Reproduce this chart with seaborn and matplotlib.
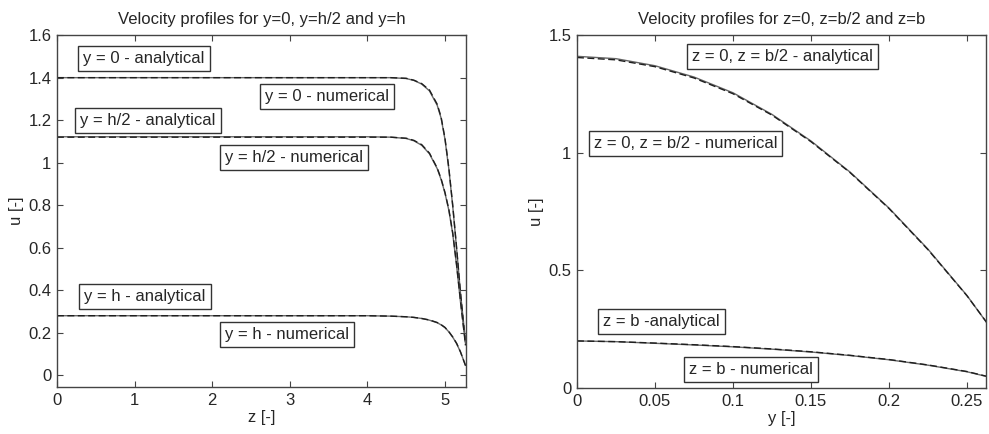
import numpy as np
import pandas as pd
import matplotlib
matplotlib.use("Agg")
import matplotlib.pyplot as plt
import seaborn as sns

# --- left panel: u along z for y=0, y=h/2, y=h ---
z_vals = [0, 1, 2, 3, 4, 4.3, 4.5, 4.6, 4.7, 4.8, 4.9, 4.95, 5.0, 5.05, 5.1, 5.15, 5.2, 5.265]
u_y0_ana = [1.40, 1.40, 1.40, 1.40, 1.40, 1.40, 1.397, 1.388, 1.372, 1.342, 1.275, 1.215, 1.115, 0.975, 0.80, 0.60, 0.39, 0.15]
u_y0_num = [1.40, 1.40, 1.40, 1.40, 1.40, 1.40, 1.396, 1.387, 1.370, 1.338, 1.270, 1.210, 1.110, 0.970, 0.795, 0.595, 0.385, 0.16]
u_yh2_ana = [1.12, 1.12, 1.12, 1.12, 1.12, 1.12, 1.115, 1.105, 1.085, 1.045, 0.975, 0.925, 0.86, 0.78, 0.67, 0.52, 0.35, 0.14]
u_yh2_num = [1.122, 1.122, 1.122, 1.122, 1.122, 1.12, 1.114, 1.103, 1.082, 1.042, 0.972, 0.921, 0.857, 0.776, 0.665, 0.515, 0.345, 0.15]
u_yh_ana = [0.28, 0.28, 0.28, 0.28, 0.28, 0.278, 0.275, 0.272, 0.267, 0.26, 0.248, 0.238, 0.225, 0.205, 0.18, 0.15, 0.11, 0.045]
u_yh_num = [0.28, 0.28, 0.28, 0.28, 0.28, 0.278, 0.275, 0.272, 0.267, 0.259, 0.247, 0.237, 0.224, 0.204, 0.179, 0.149, 0.109, 0.046]

# --- right panel: u along y for z=0 (and b/2), z=b ---
y_vals = [0, 0.025, 0.05, 0.075, 0.1, 0.125, 0.15, 0.175, 0.2, 0.225, 0.25, 0.2625]
u_z0_ana = [1.405, 1.395, 1.366, 1.318, 1.251, 1.16, 1.047, 0.916, 0.763, 0.588, 0.392, 0.28]
u_z0_num = [1.41, 1.40, 1.37, 1.322, 1.255, 1.163, 1.05, 0.918, 0.765, 0.59, 0.393, 0.279]
u_zb_ana = [0.20, 0.197, 0.191, 0.184, 0.176, 0.166, 0.154, 0.139, 0.121, 0.098, 0.07, 0.05]
u_zb_num = [0.20, 0.197, 0.190, 0.183, 0.175, 0.165, 0.153, 0.138, 0.120, 0.097, 0.069, 0.049]

left_yticks = [0, 0.2, 0.4, 0.6, 0.8, 1, 1.2, 1.4, 1.6]
left_ylabels = ["0", "0.2", "0.4", "0.6", "0.8", "1", "1.2", "1.4", "1.6"]
left_xticks = [0, 1, 2, 3, 4, 5]
right_yticks = [0, 0.5, 1, 1.5]
right_ylabels = ["0", "0.5", "1", "1.5"]
right_xticks = [0, 0.05, 0.1, 0.15, 0.2, 0.25]
right_xlabels = ["0", "0.05", "0.1", "0.15", "0.2", "0.25"]

sns.set_style("white")
plt.rcParams["font.family"] = ["Liberation Sans", "DejaVu Sans"]
fs = 12

fig = plt.figure(figsize=(9.89, 4.34), dpi=100)
ax1 = fig.add_axes([0.0576, 0.108, 0.4135, 0.811])
ax2 = fig.add_axes([0.5834, 0.106, 0.4136, 0.813])

ana_kw = dict(color="#1e1e1e", linewidth=1.0, linestyle=(0, (5, 2.5)))
num_kw = dict(color="#666666", linewidth=1.0, linestyle="-")

for u_num, u_ana in [(u_y0_num, u_y0_ana), (u_yh2_num, u_yh2_ana), (u_yh_num, u_yh_ana)]:
    sns.lineplot(x=z_vals, y=u_num, ax=ax1, sort=False, **num_kw)
    sns.lineplot(x=z_vals, y=u_ana, ax=ax1, sort=False, **ana_kw)

for u_num, u_ana in [(u_z0_num, u_z0_ana), (u_zb_num, u_zb_ana)]:
    sns.lineplot(x=y_vals, y=u_num, ax=ax2, sort=False, **num_kw)
    sns.lineplot(x=y_vals, y=u_ana, ax=ax2, sort=False, **ana_kw)

box = dict(boxstyle="square,pad=0.3", facecolor="white", edgecolor="#333333", linewidth=1.0)

left_labels = [
    (0.34, 1.49, "y = 0 - analytical"),
    (2.68, 1.31, "y = 0 - numerical"),
    (0.30, 1.20, "y = h/2 - analytical"),
    (2.17, 1.026, "y = h/2 - numerical"),
    (0.35, 0.369, "y = h - analytical"),
    (2.16, 0.193, "y = h - numerical"),
]
for x, y, s in left_labels:
    ax1.text(x, y, s, ha="left", va="center", fontsize=fs, bbox=box)

right_labels = [
    (0.0735, 1.41, "z = 0, z = b/2 - analytical"),
    (0.0108, 1.04, "z = 0, z = b/2 - numerical"),
    (0.0166, 0.283, "z = b -analytical"),
    (0.0718, 0.079, "z = b - numerical"),
]
for x, y, s in right_labels:
    ax2.text(x, y, s, ha="left", va="center", fontsize=fs, bbox=box)

ax1.set_xlim(0, 5.27)
ax1.set_ylim(-0.056, 1.6)
ax1.set_xticks(left_xticks)
ax1.set_yticks(left_yticks)
ax1.set_yticklabels(left_ylabels)
ax1.set_title("Velocity profiles for y=0, y=h/2 and y=h", fontsize=fs, pad=8)
ax1.set_xlabel("z [-]", fontsize=fs, labelpad=2)
ax1.set_ylabel("u [-]", fontsize=fs, labelpad=3)

ax2.set_xlim(0, 0.2622)
ax2.set_ylim(0, 1.5)
ax2.set_xticks(right_xticks)
ax2.set_xticklabels(right_xlabels)
ax2.set_yticks(right_yticks)
ax2.set_yticklabels(right_ylabels)
ax2.set_title("Velocity profiles for z=0, z=b/2 and z=b", fontsize=fs, pad=8)
ax2.set_xlabel("y [-]", fontsize=fs, labelpad=2)
ax2.set_ylabel("u [-]", fontsize=fs, labelpad=3)

for ax in (ax1, ax2):
    ax.tick_params(direction="in", length=4, width=0.8, color="#444444",
                   top=True, right=True, bottom=True, left=True,
                   labelsize=fs, pad=4)
    for sp in ax.spines.values():
        sp.set_visible(True)
        sp.set_color("#444444")
        sp.set_linewidth(1.0)

fig.savefig("out.png", dpi=100)
